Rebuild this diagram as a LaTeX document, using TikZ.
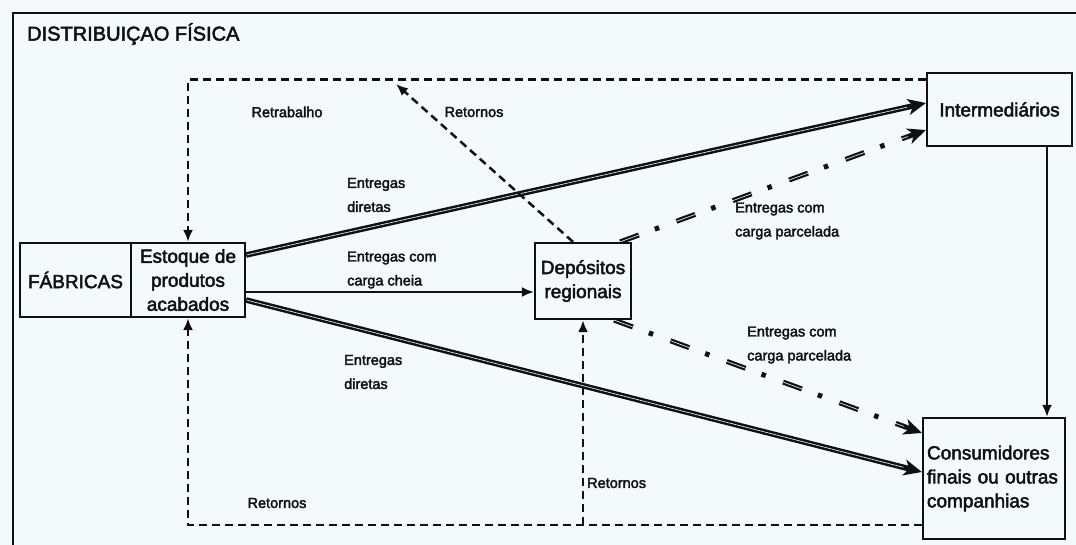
\documentclass[tikz,border=0pt]{standalone}
\usepackage{fontspec}
\setmainfont{Liberation Sans}[UprightFeatures={FakeBold=2.5}]
\usetikzlibrary{arrows.meta,calc}
\definecolor{bgc}{HTML}{F4FAFC}
\definecolor{ink}{HTML}{101010}
\begin{document}
\begin{tikzpicture}[x=1pt,y=-1pt,
  box/.style={draw=ink,line width=2.2pt,rectangle,inner sep=3pt,align=center,
    font=\fontsize{19}{24}\selectfont,text=ink},
  lbl/.style={inner sep=0pt,align=left,font=\fontsize{14.5}{24}\selectfont,text=ink},
  thin/.style={draw=ink,line width=2.2pt,-{Latex[length=12pt,width=10pt]}},
  dsh/.style={draw=ink,line width=2.5pt,dash pattern=on 8pt off 5pt,-{Latex[length=12pt,width=10pt]}},
  thick/.style={draw=ink,line width=5.6pt,-{Stealth[length=18pt,width=16pt,inset=5pt]}},
  gap/.style={draw=bgc,line width=0.6pt,shorten >=19pt,shorten <=1pt},
  dd/.style={draw=ink,line width=5pt,dash pattern=on 20pt off 17pt on 4.5pt off 18.5pt,
    -{Stealth[length=18pt,width=16pt,inset=5pt]}},
  ddgap/.style={draw=bgc,line width=0.6pt,dash pattern=on 20pt off 40pt,shorten >=19pt}
]
\fill[bgc] (0,0) rectangle (1076,545);
\useasboundingbox (0,0) rectangle (1076,545);
% frame
\draw[ink,line width=2.4pt] (13,545) -- (13,13) -- (1076,13);
\node[anchor=west,inner sep=0pt,font=\fontsize{20}{24}\selectfont,text=ink] (title) at (27,34) {DISTRIBUIÇAO FÍSICA};

% boxes
\node[box,minimum width=111pt,minimum height=74pt] (fab) at (75.5,280) {FÁBRICAS};
\node[box,minimum width=114pt,minimum height=74pt] (est) at (188,280) {Estoque de\\produtos\\acabados};
\node[box,minimum width=96pt,minimum height=76pt] (dep) at (583,281) {Depósitos\\regionais};
\node[box,minimum width=145pt,minimum height=73pt] (int) at (999.5,109.5) {Intermediários};
\node[box,minimum width=142pt,minimum height=121pt,align=left,text width=134pt,inner sep=4pt] (con) at (994,478.5) {Consumidores\\finais ou outras\\companhias};

% coordinates
\coordinate (vx) at (1047,0);
\coordinate (rt) at (396,84);
\coordinate (bl) at ([yshift=-46.5pt]con.west);

% thick direct-delivery arrows (double line look)
\draw[thick] ([yshift=25pt]est.east) -- ([yshift=6.5pt]int.west);
\draw[gap] ([yshift=25pt]est.east) -- ([yshift=6.5pt]int.west);
\draw[thick] ([yshift=-20pt]est.east) -- ([yshift=6.5pt]con.west);
\draw[gap] ([yshift=-20pt]est.east) -- ([yshift=6.5pt]con.west);

% thin solid arrows
\draw[thin] ([yshift=-12pt]est.east) -- ([yshift=-11pt]dep.west);
\draw[thin] (int.south -| vx) -- (con.north -| vx);

% dash-dot arrows
\draw[dd] ([xshift=-12pt]dep.north east) -- ([yshift=-20.5pt]int.west);
\draw[ddgap] ([xshift=-12pt]dep.north east) -- ([yshift=-20.5pt]int.west);
\draw[dd] ([xshift=-18pt]dep.south east) -- ([yshift=45.5pt]con.west);
\draw[ddgap] ([xshift=-18pt]dep.south east) -- ([yshift=45.5pt]con.west);

% dashed return arrows
\draw[dsh] ([yshift=30pt]int.west) -| (est.north);
\draw[dsh] ([xshift=-10pt]dep.north) -- (rt);
\draw[dsh] (bl) -| (est.south);
\draw[dsh] (dep.south |- bl) -- (dep.south);

% labels
\node[lbl,anchor=center] (l1) at (287,112) {Retrabalho};
\node[lbl,anchor=center] (l2) at (474,112) {Retornos};
\node[lbl,anchor=west] (l3) at (347,195) {Entregas\\diretas};
\node[lbl,anchor=west] (l4) at (347,270) {Entregas com\\carga cheia};
\node[lbl,anchor=west] (l5) at (344,372) {Entregas\\diretas};
\node[lbl,anchor=west] (l6) at (735,221) {Entregas com\\carga parcelada};
\node[lbl,anchor=west] (l7) at (747,345) {Entregas com\\carga parcelada};
\node[lbl,anchor=center] (l8) at (277,503) {Retornos};
\node[lbl,anchor=west] (l9) at (587,483) {Retornos};
\end{tikzpicture}
\end{document}
